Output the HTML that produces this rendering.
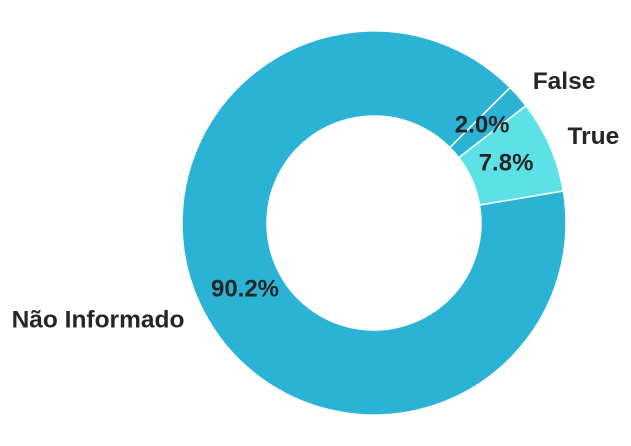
<!DOCTYPE html>
<html><head><meta charset="utf-8"><style>
html,body{margin:0;padding:0;background:#fff;}
svg{display:block;font-family:"Liberation Sans",sans-serif;}
</style></head><body>
<svg id="chart" width="631" height="446"></svg>
<script>
const categories = ["True", "False", "Não Informado"];
const values = [7.8, 2.0, 90.2];
const pctLabels = ["7.8%", "2.0%", "90.2%"];
const colors = ["#5ce1e6", "#2bb3d6", "#2bb3d6"];
const startAngle = 9.6;
const cx = 374, cy = 223, R = 192, r = 107;
const svg = document.getElementById('chart');
const NS = "http://www.w3.org/2000/svg";
const total = values.reduce((a,b)=>a+b,0);
function pt(rad, deg){const a=deg*Math.PI/180;return [cx+rad*Math.cos(a), cy-rad*Math.sin(a)];}
let ang = startAngle;
const texts = [];
values.forEach((v,i)=>{
  const sweep = v/total*360;
  const a0 = ang, a1 = ang+sweep;
  const large = sweep>180?1:0;
  const p0=pt(R,a0), p1=pt(R,a1), q1=pt(r,a1), q0=pt(r,a0);
  const path=document.createElementNS(NS,'path');
  path.setAttribute('d',`M${p0[0]},${p0[1]} A${R},${R} 0 ${large} 0 ${p1[0]},${p1[1]} L${q1[0]},${q1[1]} A${r},${r} 0 ${large} 1 ${q0[0]},${q0[1]} Z`);
  path.setAttribute('fill',colors[i]);
  path.setAttribute('stroke','#fff');
  path.setAttribute('stroke-width','1.5');
  
  
  svg.appendChild(path);
  const mid=(a0+a1)/2;
  const lp=pt(R*1.1,mid), pp=pt(r+(R-r)*0.45,mid);
  let lx = lp[0], ly = lp[1]-3, anchor='start';
  if (i===2){ lx=98; ly=319; anchor='middle'; }
  let px = pp[0]-1, py = pp[1]-3;
  if (i===2){ px=245; py=288; }
  texts.push({label:categories[i], lx, ly, anchor, pct:pctLabels[i], px, py});
  ang=a1;
});
texts.forEach(o=>{
  const key=o.label.toLowerCase().replace(/[^a-z]+/g,'-');
  const t=document.createElementNS(NS,'text');
  t.setAttribute('x',o.lx); t.setAttribute('y',o.ly+8.5);
  t.setAttribute('text-anchor',o.anchor);
  t.setAttribute('font-size','24.5'); t.setAttribute('font-weight','bold'); t.setAttribute('fill','#262626');
  t.textContent=o.label;
  
  
  svg.appendChild(t);
  const p=document.createElementNS(NS,'text');
  p.setAttribute('x',o.px); p.setAttribute('y',o.py+8.5);
  p.setAttribute('text-anchor','middle');
  p.setAttribute('font-size','24'); p.setAttribute('font-weight','bold'); p.setAttribute('fill','#262626');
  p.textContent=o.pct;
  
  
  svg.appendChild(p);
});
</script>
</body></html>
